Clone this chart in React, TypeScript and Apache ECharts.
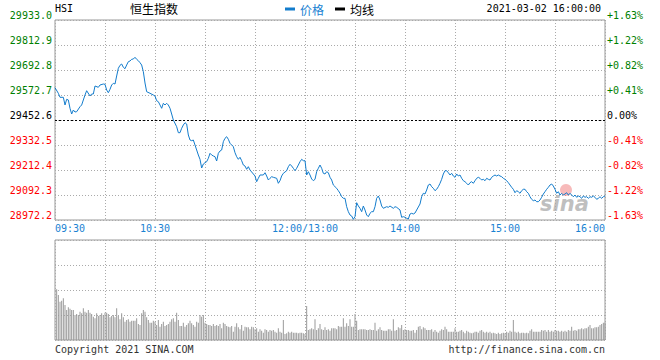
import { useEffect, useRef } from 'react';
import * as echarts from 'echarts';

// HSI 恒生指数 intraday, 2021-03-02
const PREV_CLOSE = 29452.6;
const Y_MIN = 28972.2;
const Y_MAX = 29933.0;
const Y_STEP = 120.1;
const SESSION_MINUTES = 330; // 09:30-12:00 + 13:00-16:00

const tickMinutes = [0, 60, 150, 210, 270, 330];
const tickLabels = ['09:30', '10:30', '12:00/13:00', '14:00', '15:00', '16:00'];

// minutes into the trading session
const priceMinute = [
  0, 2, 3, 5, 6, 7, 8, 9, 10, 11, 12, 13, 15, 16, 17, 18, 19, 21, 22, 23, 24, 26, 27, 29, 30,
  31, 32, 33, 34, 35, 36, 37, 38, 39, 40, 41, 42, 43, 44, 45, 46, 47, 48, 49, 50, 51, 52, 53, 54, 55,
  57, 59, 60, 61, 62, 63, 64, 65, 66, 67, 68, 69, 70, 71, 73, 74, 75, 76, 77, 78, 79, 80, 81, 82, 83,
  84, 85, 86, 87, 88, 89, 90, 91, 92, 93, 94, 95, 96, 97, 98, 99, 100, 101, 102, 103, 104, 105, 107, 108, 109,
  110, 111, 112, 113, 114, 115, 116, 117, 118, 119, 120, 121, 122, 123, 125, 126, 127, 128, 129, 130, 131, 133, 134, 135, 136,
  137, 139, 140, 141, 142, 143, 144, 145, 146, 147, 148, 149, 150, 151, 152, 153, 154, 155, 156, 157, 158, 159, 160, 161, 162,
  163, 164, 165, 166, 167, 169, 170, 171, 172, 173, 174, 175, 176, 177, 178, 179, 180, 181, 182, 183, 184, 185, 186, 187, 188,
  189, 190, 191, 192, 193, 194, 195, 196, 197, 199, 200, 201, 203, 204, 205, 207, 208, 209, 210, 211, 212, 213, 214, 215, 216,
  217, 218, 219, 220, 221, 222, 223, 224, 225, 226, 227, 228, 229, 230, 231, 232, 233, 234, 235, 236, 237, 238, 239, 240, 241,
  242, 243, 244, 245, 246, 247, 248, 249, 250, 251, 252, 253, 254, 255, 256, 257, 258, 259, 260, 261, 262, 263, 264, 265, 266,
  267, 268, 269, 270, 271, 272, 273, 274, 275, 276, 277, 278, 279, 280, 281, 282, 283, 284, 285, 286, 287, 288, 289, 290, 291,
  292, 293, 294, 295, 296, 297, 298, 299, 300, 301, 302, 303, 304, 305, 306, 307, 308, 309, 310, 311, 312, 313, 314, 315, 316,
  317, 318, 319, 320, 321, 322, 323, 324, 325, 326, 327, 328, 329, 330,
];

const priceValue = [
  29607.8, 29580.9, 29561.7, 29561.7, 29524.7, 29552.0, 29548.7, 29508.8, 29481.4, 29500.6, 29491.0, 29492.5, 29516.5, 29524.7, 29548.7, 29572.7, 29593.4, 29567.9, 29577.5, 29577.5, 29615.9, 29609.7, 29620.7, 29625.5, 29624.1,
  29596.7, 29583.7, 29600.1, 29620.7, 29628.9, 29625.5, 29664.0, 29701.0, 29715.4, 29721.6, 29705.8, 29699.0, 29716.8, 29732.7, 29736.0, 29744.2, 29745.6, 29753.8, 29744.2, 29737.5, 29727.9, 29716.8, 29684.6, 29630.3, 29588.6,
  29580.9, 29572.7, 29567.9, 29545.3, 29540.5, 29524.7, 29508.8, 29532.8, 29524.7, 29532.8, 29524.7, 29508.8, 29481.4, 29452.6, 29420.4, 29391.6, 29391.6, 29412.7, 29428.6, 29439.6, 29433.4, 29380.5, 29356.5, 29353.2, 29356.5,
  29332.5, 29308.5, 29284.5, 29263.8, 29222.0, 29241.2, 29247.5, 29252.3, 29268.6, 29292.6, 29284.5, 29279.7, 29276.3, 29255.6, 29292.6, 29303.7, 29308.5, 29348.4, 29364.7, 29372.4, 29359.9, 29340.7, 29324.3, 29295.5, 29276.3,
  29263.8, 29273.4, 29257.1, 29236.4, 29231.6, 29215.8, 29228.3, 29212.4, 29202.8, 29193.2, 29183.6, 29156.2, 29172.5, 29188.4, 29188.4, 29199.4, 29183.6, 29164.4, 29172.5, 29180.2, 29177.3, 29172.5, 29148.5, 29161.0, 29183.6,
  29196.5, 29209.0, 29228.3, 29239.8, 29231.6, 29220.6, 29209.0, 29220.6, 29236.4, 29252.3, 29263.8, 29257.1, 29257.1, 29188.4, 29204.2, 29188.4, 29169.2, 29161.0, 29167.7, 29204.2, 29220.6, 29236.4, 29220.6, 29196.5, 29193.2,
  29204.2, 29199.4, 29177.3, 29164.4, 29140.3, 29124.5, 29113.0, 29100.5, 29084.1, 29076.4, 29076.4, 29036.1, 29012.1, 28996.2, 28991.4, 28975.6, 28988.1, 29055.3, 29039.5, 29028.4, 29012.1, 29039.5, 29020.2, 28996.2, 28988.1,
  29004.4, 29012.1, 29012.1, 29036.1, 29076.4, 29087.5, 29068.3, 29039.5, 29028.4, 29036.1, 29033.2, 29039.5, 29028.4, 29036.1, 29033.2, 29020.2, 28985.2, 28988.1, 28985.2, 28980.4, 28977.0, 29001.0, 29004.4, 29001.0, 29005.8,
  29020.2, 29034.7, 29049.1, 29084.1, 29100.5, 29097.1, 29116.3, 29140.3, 29145.1, 29132.2, 29124.5, 29113.0, 29119.7, 29132.2, 29148.5, 29167.7, 29193.2, 29209.0, 29209.0, 29199.4, 29188.4, 29196.5, 29183.6, 29177.3, 29193.2,
  29183.6, 29188.4, 29172.5, 29161.0, 29156.2, 29148.5, 29140.3, 29151.4, 29156.2, 29148.5, 29161.0, 29172.5, 29177.3, 29172.5, 29164.4, 29167.7, 29161.0, 29172.5, 29167.7, 29164.4, 29177.3, 29183.6, 29188.4, 29183.6, 29188.4,
  29183.6, 29180.2, 29172.5, 29167.7, 29161.0, 29151.4, 29140.3, 29129.3, 29119.7, 29103.3, 29113.0, 29108.1, 29100.5, 29113.0, 29119.7, 29119.7, 29108.1, 29100.5, 29084.1, 29071.6, 29064.9, 29068.3, 29060.1, 29060.1, 29068.3,
  29081.3, 29097.1, 29108.1, 29119.7, 29129.3, 29140.3, 29145.1, 29135.5, 29119.7, 29100.5, 29108.1, 29092.3, 29100.5, 29092.3, 29097.1, 29103.3, 29092.3, 29100.5, 29092.3, 29084.1, 29092.3, 29081.3, 29087.5, 29084.1, 29076.4,
  29087.5, 29081.3, 29084.1, 29076.4, 29084.1, 29081.3, 29087.5, 29081.3, 29071.6, 29076.4, 29084.1, 29076.4, 29084.1, 29087.5,
];

// per-minute volume (relative units), minute 1 .. 330
const volumeValue = [
  50.7, 45, 38.3, 39.3, 41.7, 35, 30, 32.7, 31.3, 30,
  30, 25, 26, 25, 28.3, 26.7, 31.7, 28.3, 27.3, 30,
  27.3, 26, 23.3, 21.7, 26.7, 24, 25, 26.7, 25, 27.3,
  27.3, 26, 22.7, 24, 25, 22.7, 31.7, 24, 20.7, 26.7,
  22.7, 18.3, 20, 20.7, 18.3, 19.3, 19.3, 19.3, 21.7, 16,
  15, 26.7, 30, 28.3, 22.7, 20, 17.3, 17.3, 19.3, 18.3,
  15, 20, 13.3, 16, 18.3, 14, 15, 16, 18.3, 20.7,
  21.7, 18.3, 27.3, 20, 14, 14, 17.3, 13.3, 15, 16.7,
  19.3, 16.7, 15, 13.3, 18.3, 17.3, 25, 23.3, 25, 17.3,
  16, 15, 15, 14, 16, 14, 15, 14, 16, 11.7,
  17.3, 16, 14, 13.3, 12.7, 14, 8.3, 13.3, 16.7, 12.7,
  10.7, 15, 9.3, 13.3, 12.7, 12.7, 10.7, 13.3, 12.7, 10.7,
  11.7, 8.3, 10.7, 9.3, 7.3, 10.7, 10, 8.3, 10, 9.3,
  10, 8.3, 7.3, 11.7, 8.3, 7.3, 20, 6, 6.7, 8.3,
  7.3, 8.3, 7.3, 7.3, 7.3, 6.7, 7.3, 7.3, 6.7, 6,
  34, 10, 10.7, 11.7, 10.7, 20.7, 10, 11.7, 16, 10.7,
  10, 12.7, 10, 10.7, 9.3, 11.7, 11.7, 11.7, 10.7, 14,
  13.3, 13.3, 21.7, 13.3, 16.7,
  14, 20.7, 13.3, 13.3, 26, 19.3, 10, 10.7, 10.7, 10.7,
  10.7, 10, 10, 10.7, 10, 10, 17.3, 9.3, 10.7, 12.7,
  10, 9.3, 9.3, 9.3, 10.7, 10.7, 9.3, 20.7, 9.3, 10,
  12.7, 11.7, 15, 10, 10.7, 10, 10, 9.3, 9.3, 10,
  7.3, 10, 13.3, 14, 10.7, 12.7, 11.7, 10, 10, 10,
  10.7, 8.3, 10, 8.3, 7.3, 9.3, 10.7, 10, 13.3, 10.7,
  8.3, 8.3, 8.3, 8.3, 11.7, 8.3, 8.3, 9.3, 10, 8.3,
  6.7, 9.3, 8.3, 7.3, 6.7, 7.3, 8.3, 8.3, 7.3, 9.3,
  10, 8.3, 7.3, 8.3, 7.3, 8.3, 6.7, 7.3, 6.7, 6,
  7.3, 6, 6.7, 7.3, 6.7, 8.3, 7.3, 9.3, 8.3, 20,
  8.3, 7.3, 8.3, 6.7, 7.3, 7.3, 6.7, 7.3, 6.7, 9.3,
  10.7, 8.3, 8.3, 8.3, 8.3, 8.3, 10, 9.3, 10, 8.3,
  10, 8.3, 9.3, 8.3, 10, 9.3, 9.3, 8.3, 9.3, 8.3,
  9.3, 8.3, 10, 9.3, 13.3, 9.3, 10, 9.3, 10.7, 10.7,
  11.7, 10.7, 11.7, 11.7, 13.3, 15, 11.7, 11.7, 12.7, 12.7,
  13.3, 15, 16, 17.3, 17.3,
];

const MONO = '"DejaVu Sans Mono", "Liberation Mono", monospace';
const CJK = '"Noto Sans CJK SC", "Noto Sans", sans-serif';
const BLUE = '#1a82d2';
const LINE_BLUE = '#137ccc';
const GREEN = '#008000';
const RED = '#ff0000';
const GRID_GREY = '#aaaaaa';
const BORDER_GREY = '#999999';

export default function App() {
  const ref = useRef<HTMLDivElement>(null);

  useEffect(() => {
    if (!ref.current) return;
    const chart = echarts.init(ref.current, undefined, { renderer: 'svg' });
    const mid = Math.round((PREV_CLOSE - Y_MIN) / Y_STEP);
    const stepOf = (v: any) => Math.round(Number(v) / Y_STEP);
    const sideColor = (v: any) => {
      const i = stepOf(v);
      return i > mid ? GREEN : i < mid ? RED : '#000000';
    };
    const priceData = priceMinute.map((m, i) => [m, +(priceValue[i] - Y_MIN).toFixed(1)]);
    const volData = volumeValue.map((v, i) => [i + 1, v]);

    const timeAxisBase = {
      type: 'value',
      min: 0,
      max: SESSION_MINUTES,
      interval: 30,
      axisLine: { show: false },
      axisTick: { show: false },
      splitLine: { show: true, lineStyle: { color: GRID_GREY, type: [1, 2], width: 1 } },
    };

    chart.setOption({
      animation: false,
      textStyle: { fontFamily: MONO },
      legend: {
        left: 285,
        top: 3,
        padding: 0,
        icon: 'rect',
        itemWidth: 10,
        itemHeight: 3,
        itemGap: 11,
        selectedMode: false,
        textStyle: { fontFamily: CJK, fontSize: 12, padding: [0, 0, 0, 0] },
        data: [
          { name: '价格', textStyle: { color: BLUE } },
          { name: '均线', textStyle: { color: '#000' } },
        ],
      },
      grid: [
        { left: 55, top: 20, width: 550, height: 200, show: true, borderColor: BORDER_GREY, borderWidth: 1 },
        { left: 55, top: 240, width: 550, height: 100, show: true, borderColor: BORDER_GREY, borderWidth: 1 },
      ],
      xAxis: [
        {
          ...timeAxisBase,
          gridIndex: 0,
          axisLabel: {
            show: true,
            margin: 3,
            color: BLUE,
            fontFamily: MONO,
            fontSize: 10,
            showMinLabel: true,
            showMaxLabel: true,
            alignMinLabel: 'left',
            alignMaxLabel: 'right',
            formatter: (v: number) => {
              const k = tickMinutes.indexOf(Math.round(v));
              return k >= 0 ? tickLabels[k] : '';
            },
          },
        },
        { ...timeAxisBase, gridIndex: 1, axisLabel: { show: false } },
      ],
      yAxis: [
        {
          type: 'value',
          gridIndex: 0,
          min: 0,
          max: +(Y_MAX - Y_MIN).toFixed(1),
          interval: Y_STEP,
          axisLine: { show: false },
          axisTick: { show: false },
          splitLine: { show: true, lineStyle: { color: GRID_GREY, type: [1, 2], width: 1 } },
          axisLabel: {
            margin: 3,
            fontFamily: MONO,
            fontSize: 10,
            verticalAlign: 'bottom',
            color: sideColor,
            formatter: (v: number) => (Y_MIN + stepOf(v) * Y_STEP).toFixed(1),
          },
        },
        {
          type: 'value',
          gridIndex: 0,
          position: 'right',
          min: 0,
          max: +(Y_MAX - Y_MIN).toFixed(1),
          interval: Y_STEP,
          axisLine: { show: false },
          axisTick: { show: false },
          splitLine: { show: false },
          axisLabel: {
            margin: 2,
            fontFamily: MONO,
            fontSize: 10,
            verticalAlign: 'bottom',
            color: sideColor,
            formatter: (v: number) => {
              const d = stepOf(v) - mid;
              const pct = ((d * Y_STEP) / PREV_CLOSE) * 100;
              return (d > 0 ? '+' : '') + pct.toFixed(2) + '%';
            },
          },
        },
        {
          type: 'value',
          gridIndex: 1,
          min: 0,
          max: 100,
          interval: 25,
          axisLine: { show: false },
          axisTick: { show: false },
          axisLabel: { show: false },
          splitLine: { show: true, lineStyle: { color: GRID_GREY, type: [1, 2], width: 1 } },
        },
      ],
      series: [
        {
          name: '价格',
          type: 'line',
          xAxisIndex: 0,
          yAxisIndex: 0,
          data: priceData,
          showSymbol: false,
          symbol: 'none',
          color: LINE_BLUE,
          lineStyle: { color: LINE_BLUE, width: 1 },
          markLine: {
            silent: true,
            symbol: 'none',
            label: { show: false },
            lineStyle: { color: '#000', type: [2, 2], width: 1 },
            data: [{ yAxis: +(PREV_CLOSE - Y_MIN).toFixed(1) }],
          },
        },
        {
          name: '均线',
          type: 'line',
          xAxisIndex: 0,
          yAxisIndex: 0,
          data: [],
          color: '#000',
          showSymbol: false,
        },
        {
          name: '成交量',
          type: 'bar',
          xAxisIndex: 1,
          yAxisIndex: 2,
          data: volData,
          barWidth: 1,
          itemStyle: { color: '#999999' },
        },
      ],
      graphic: [
        { type: 'text', left: 55, top: 3, style: { text: 'HSI', font: `10px ${MONO}`, fill: '#000' } },
        { type: 'text', left: 130, top: 2, style: { text: '恒生指数', font: `12px ${CJK}`, fill: '#000' } },
        { type: 'text', right: 59, top: 3, style: { text: '2021-03-02 16:00:00', font: `10px ${MONO}`, fill: '#000' } },
        { type: 'text', left: 55, top: 344, style: { text: 'Copyright 2021 SINA.COM', font: `10px ${MONO}`, fill: '#333' } },
        { type: 'text', right: 55, top: 344, style: { text: 'http://finance.sina.com.cn', font: `10px ${MONO}`, fill: '#333' } },
        { type: 'circle', shape: { cx: 566, cy: 190, r: 6 }, style: { fill: 'rgba(240,130,130,0.55)' }, z: 1 },
        { type: 'text', left: 540, top: 193, style: { text: 'sina', font: 'italic bold 21px "DejaVu Sans", sans-serif', fill: 'rgba(170,170,170,0.75)' }, z: 1 },
      ],
    });
    return () => chart.dispose();
  }, []);

  return <div ref={ref} style={{ position: 'absolute', left: 0, top: 0, width: 660, height: 360 }} />;
}
